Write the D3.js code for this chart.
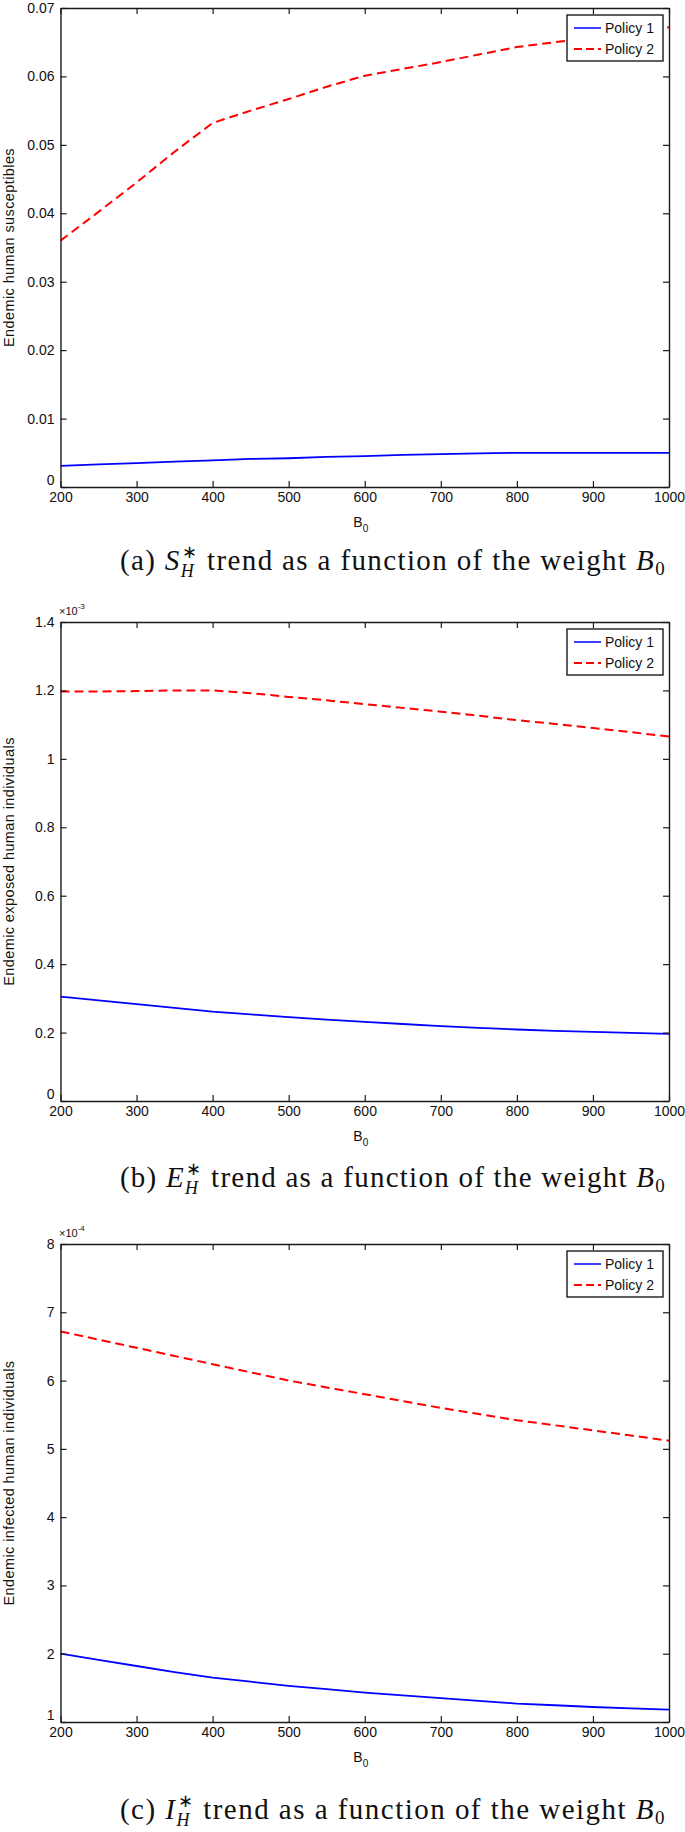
<!DOCTYPE html>
<html>
<head>
<meta charset="utf-8">
<script src="https://cdn.jsdelivr.net/npm/d3@7"></script>
<style>
  html, body { margin: 0; padding: 0; background: #fff; }
  svg { display: block; }
</style>
</head>
<body>
<svg id="chart" width="685" height="1832"></svg>
<script>
// ---------------- DATA ----------------
const B0 = [200, 250, 300, 350, 400, 450, 500, 550, 600, 650, 700, 750, 800, 850, 900, 950, 1000];
const xTicks = [200, 300, 400, 500, 600, 700, 800, 900, 1000];
const seriesNames = ["Policy 1", "Policy 2"];

// (a) Endemic human susceptibles
const sPolicy1 = [0.0031, 0.0033, 0.0035, 0.0037, 0.0039, 0.0041, 0.0042, 0.0044, 0.0045, 0.0047, 0.0048, 0.0049, 0.0050, 0.0050, 0.0050, 0.0050, 0.0050];
const sPolicy2 = [0.0360, 0.0402, 0.0445, 0.0490, 0.0532, 0.0550, 0.0567, 0.0585, 0.0601, 0.0611, 0.0621, 0.0632, 0.0643, 0.0650, 0.0657, 0.0665, 0.0672];
const sTicks = [0, 0.01, 0.02, 0.03, 0.04, 0.05, 0.06, 0.07];

// (b) Endemic exposed human individuals (x 10^-3)
const ePolicy1 = [0.305, 0.294, 0.283, 0.272, 0.261, 0.253, 0.245, 0.238, 0.231, 0.225, 0.219, 0.214, 0.209, 0.205, 0.202, 0.199, 0.196];
const ePolicy2 = [1.197, 1.197, 1.198, 1.200, 1.200, 1.192, 1.181, 1.171, 1.160, 1.149, 1.138, 1.126, 1.113, 1.102, 1.090, 1.078, 1.065];
const eTicks = [0, 0.2, 0.4, 0.6, 0.8, 1, 1.2, 1.4];

// (c) Endemic infected human individuals (x 10^-4)
const iPolicy1 = [2.00, 1.91, 1.82, 1.73, 1.65, 1.59, 1.53, 1.48, 1.43, 1.39, 1.35, 1.31, 1.27, 1.245, 1.22, 1.20, 1.18];
const iPolicy2 = [6.72, 6.60, 6.48, 6.36, 6.24, 6.12, 6.00, 5.90, 5.80, 5.70, 5.60, 5.51, 5.42, 5.345, 5.27, 5.195, 5.12];
const iTicks = [1, 2, 3, 4, 5, 6, 7, 8];

// ---------------- LAYOUT ----------------
const svg = d3.select("#chart");
const SANS = "'Liberation Sans', Arial, Helvetica, sans-serif";
const SERIF = "'Liberation Serif', 'Times New Roman', serif";
const left = 60.5, right = 669;

const panels = [
  { top: 8,    bottom: 487,  ticks: sTicks, p1: sPolicy1, p2: sPolicy2, exp: null,
    ylabel: "Endemic human susceptibles", cap: "a", sym: "S", capY: 570 },
  { top: 622,  bottom: 1101, ticks: eTicks, p1: ePolicy1, p2: ePolicy2, exp: "-3",
    ylabel: "Endemic exposed human individuals", cap: "b", sym: "E", capY: 1187 },
  { top: 1244, bottom: 1722, ticks: iTicks, p1: iPolicy1, p2: iPolicy2, exp: "-4",
    ylabel: "Endemic infected human individuals", cap: "c", sym: "I", capY: 1819 }
];

const fmt = d => String(+d.toFixed(4));

panels.forEach(p => {
  const x = d3.scaleLinear().domain([200, 1000]).range([left, right]);
  const y = d3.scaleLinear().domain(d3.extent(p.ticks)).range([p.bottom, p.top]);
  const g = svg.append("g");

  // series lines
  const line = arr => d3.line().x((d, i) => x(B0[i])).y(d => y(d))(arr);
  g.append("path").attr("d", line(p.p1)).attr("fill", "none")
    .attr("stroke", "#0000ff").attr("stroke-width", 1.8);
  g.append("path").attr("d", line(p.p2)).attr("fill", "none")
    .attr("stroke", "#ff0000").attr("stroke-width", 2).attr("stroke-dasharray", "9,5");

  // axes (MATLAB style: inward ticks, box on)
  const styleAxis = sel => {
    sel.attr("font-family", null).attr("font-size", null);
    sel.selectAll("path.domain").attr("stroke", "#1a1a1a").attr("stroke-width", 1.4);
    sel.selectAll(".tick line").attr("stroke", "#1a1a1a").attr("stroke-width", 1.2);
    sel.selectAll(".tick text").attr("fill", "#111").attr("font-family", SANS).attr("font-size", 14);
  };
  g.append("g").attr("transform", `translate(0,${p.bottom})`)
    .call(d3.axisBottom(x).tickValues(xTicks).tickFormat(d3.format("d")).tickSize(-6).tickSizeOuter(0).tickPadding(5))
    .call(styleAxis);
  g.append("g").attr("transform", `translate(0,${p.top})`)
    .call(d3.axisTop(x).tickValues(xTicks).tickFormat("").tickSize(-6).tickSizeOuter(0))
    .call(styleAxis);
  const ya = g.append("g").attr("transform", `translate(${left},0)`)
    .call(d3.axisLeft(y).tickValues(p.ticks).tickFormat(fmt).tickSize(-6).tickSizeOuter(0).tickPadding(6))
    .call(styleAxis);
  // lowest y label sits just above the first x label (as in the original)
  ya.selectAll(".tick text").filter((d, i) => i === 0).attr("dy", "-0.2em");
  g.append("g").attr("transform", `translate(${right},0)`)
    .call(d3.axisRight(y).tickValues(p.ticks).tickFormat("").tickSize(-6).tickSizeOuter(0))
    .call(styleAxis);

  // exponent label
  if (p.exp) {
    const t = g.append("text").attr("x", 59).attr("y", p.top - 7)
      .attr("font-family", SANS).attr("font-size", 11).attr("fill", "#111");
    t.append("tspan").text("\u00d710");
    t.append("tspan").attr("font-size", 8).attr("dy", -6).text(p.exp);
  }

  // x label B0
  const xl = g.append("text").attr("x", x(600) - 4).attr("y", p.bottom + 40)
    .attr("font-family", SANS).attr("font-size", 14).attr("fill", "#111").attr("text-anchor", "middle");
  xl.append("tspan").text("B");
  xl.append("tspan").attr("font-size", 10).attr("dy", 5).text("0");

  // y label
  g.append("text")
    .attr("transform", `translate(9,${(p.top + p.bottom) / 2}) rotate(-90)`)
    .attr("text-anchor", "middle").attr("dy", "0.35em")
    .attr("font-family", SANS).attr("font-size", 14.5).attr("letter-spacing", 0.4)
    .attr("fill", "#111")
    .text(p.ylabel);

  // legend
  const lg = g.append("g").attr("transform", `translate(567,${p.top + 7})`);
  lg.append("rect").attr("width", 96).attr("height", 46).attr("fill", "#fff")
    .attr("stroke", "#1a1a1a").attr("stroke-width", 1.4);
  const rows = [{ c: "#0000ff", dash: null, w: 1.5 }, { c: "#ff0000", dash: "8,4", w: 2 }];
  rows.forEach((r, i) => {
    const yy = 13 + i * 21;
    lg.append("line").attr("x1", 7).attr("x2", 34).attr("y1", yy).attr("y2", yy)
      .attr("stroke", r.c).attr("stroke-width", r.w).attr("stroke-dasharray", r.dash);
    lg.append("text").attr("x", 38).attr("y", yy).attr("dy", "0.35em")
      .attr("font-family", SANS).attr("font-size", 14).attr("fill", "#111").text(seriesNames[i]);
  });

  // caption
  const cap = svg.append("text").attr("y", p.capY).attr("font-family", SERIF)
    .attr("font-size", 29).attr("fill", "#111");
  cap.append("tspan").text(`(${p.cap}) `);
  cap.append("tspan").attr("font-style", "italic").text(p.sym);
  const sub = cap.append("tspan").attr("font-style", "italic").attr("font-size", 18).attr("dy", 7).text("H");
  const subW = sub.node().getComputedTextLength();
  const sup = cap.append("tspan").attr("font-size", 18).attr("dx", -subW).attr("dy", -19).text("\u2217");
  const supW = sup.node().getComputedTextLength();
  cap.append("tspan").attr("dy", 12).attr("dx", Math.max(0, subW - supW)).text(" trend as a function of the weight ");
  cap.append("tspan").attr("font-style", "italic").text("B");
  cap.append("tspan").attr("font-size", 19).attr("dy", 5).text("0");
  const w0 = cap.node().getBBox().width;
  const target = 546;
  cap.attr("letter-spacing", (target - w0) / cap.text().length);
  const w1 = cap.node().getBBox().width;
  cap.attr("x", 666 - w1);
});
</script>
</body>
</html>
